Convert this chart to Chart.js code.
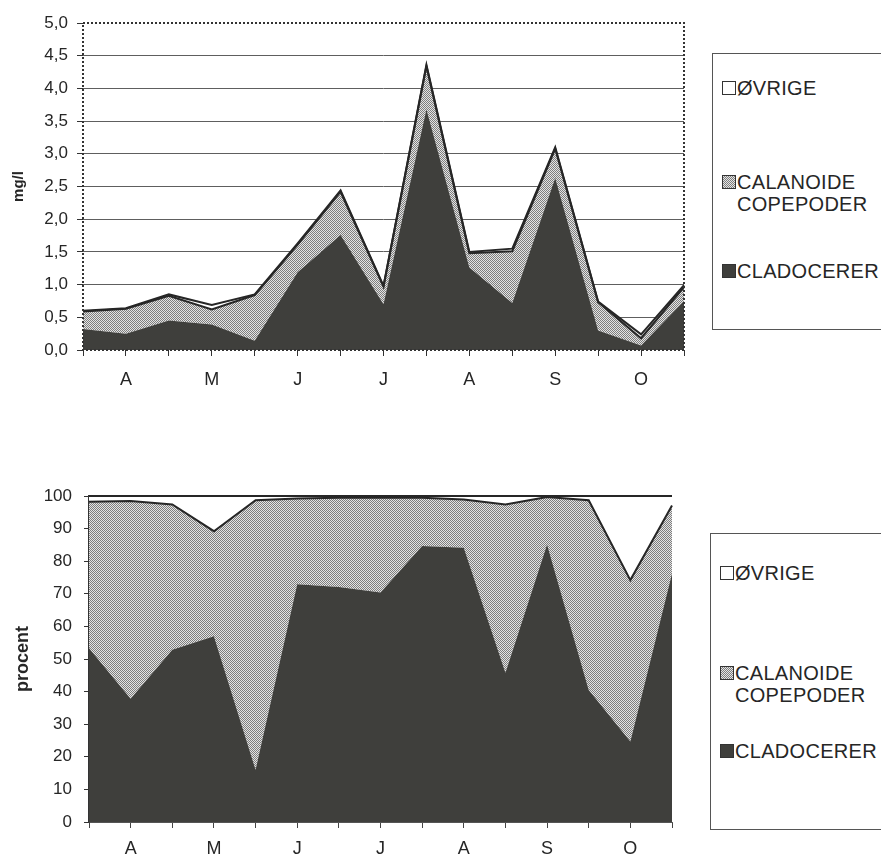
<!DOCTYPE html>
<html>
<head>
<meta charset="utf-8">
<script src="https://cdn.jsdelivr.net/npm/chart.js@4/dist/chart.umd.min.js"></script>
<style>
  html, body { margin: 0; padding: 0; background: #fff; overflow: hidden; }
  #page { position: relative; width: 881px; height: 859px; overflow: hidden;
          font-family: "Liberation Sans", Arial, sans-serif; color: #262626; }
  .wrap { position: absolute; left: 0; width: 700px; }
  #w1 { top: 0; height: 400px; }
  #w2 { top: 440px; height: 419px; }
  .legend { position: absolute; border-top: 1px solid #555; border-bottom: 1px solid #555; border-left: 1px solid #555; width: 300px; }
  #lg1 { left: 712px; top: 53px; height: 275px; }
  #lg2 { left: 710px; top: 533px; height: 295px; }
  .item { position: absolute; left: 24px; font-size: 20px; line-height: 22px; letter-spacing: 0.3px; white-space: nowrap; }
  .sw { position: absolute; left: -15px; top: 4px; width: 12px; height: 12px; border: 1px solid #333; }
</style>
</head>
<body>
<div id="page">
<div class="wrap" id="w1"><canvas id="c1"></canvas></div>
<div class="wrap" id="w2"><canvas id="c2"></canvas></div>
<div class="legend" id="lg1"></div>
<div class="legend" id="lg2"></div>
</div>
<script>
// Sampling dates; only every second one carries a month initial
const months = ['', 'A', '', 'M', '', 'J', '', 'J', '', 'A', '', 'S', '', 'O', ''];

const seriesNames = ['CLADOCERER', 'CALANOIDE COPEPODER', 'ØVRIGE'];

// Biomass, mg/l
const mgCladocerer = [0.32, 0.25, 0.45, 0.39, 0.14, 1.19, 1.76, 0.70, 3.68, 1.26, 0.72, 2.63, 0.30, 0.07, 0.75];
const mgCalanoide  = [0.27, 0.38, 0.38, 0.23, 0.70, 0.42, 0.66, 0.27, 0.66, 0.22, 0.79, 0.45, 0.43, 0.11, 0.21];
const mgOvrige     = [0.01, 0.01, 0.02, 0.07, 0.01, 0.02, 0.02, 0.01, 0.02, 0.02, 0.04, 0.02, 0.01, 0.06, 0.03];

// Share of biomass, procent
const pctCladocerer = [53.3, 37.8, 52.8, 57.0, 16.0, 72.9, 72.1, 70.4, 84.7, 84.1, 45.8, 85.1, 40.5, 24.7, 76.2];
const pctCalanoide  = [44.9, 60.7, 44.6, 32.2, 82.7, 26.3, 27.4, 29.1, 14.8, 14.8, 51.6, 14.6, 58.2, 49.5, 20.9];
const pctOvrige     = [1.8, 1.5, 2.6, 10.8, 1.3, 0.8, 0.5, 0.5, 0.5, 1.1, 2.6, 0.3, 1.3, 25.8, 2.9];

const FONT = '"Liberation Sans", Arial, sans-serif';
const INK = '#262626';
const DARK = '#3f3f3c';

// Fine checker fill for the copepod band
function checker() {
  const t = document.createElement('canvas');
  t.width = 2; t.height = 2;
  const g = t.getContext('2d');
  g.fillStyle = '#e4e4e4'; g.fillRect(0, 0, 2, 2);
  g.fillStyle = '#7e7e7e'; g.fillRect(0, 0, 1, 1); g.fillRect(1, 1, 1, 1);
  return g.createPattern(t, 'repeat');
}
const dots = checker();

function datasets(clad, cal, ovr) {
  return [
    { label: seriesNames[0], data: clad, fill: 'origin', backgroundColor: DARK,
      borderColor: 'rgba(0,0,0,0)', borderWidth: 0, pointRadius: 0, tension: 0, clip: 4 },
    { label: seriesNames[1], data: cal, fill: '-1', backgroundColor: dots,
      borderColor: '#262626', borderWidth: 2, pointRadius: 0, tension: 0, clip: 4 },
    { label: seriesNames[2], data: ovr, fill: '-1', backgroundColor: '#ffffff',
      borderColor: '#262626', borderWidth: 2, pointRadius: 0, tension: 0, clip: 4 }
  ];
}

// Dotted frame round the plot area
const dottedFrame = {
  id: 'dottedFrame',
  afterDatasetsDraw(chart) {
    const a = chart.chartArea, ctx = chart.ctx;
    ctx.save();
    ctx.strokeStyle = '#333';
    ctx.lineWidth = 2;
    ctx.setLineDash([2, 2]);
    ctx.strokeRect(a.left, a.top, a.right - a.left, a.bottom - a.top);
    ctx.restore();
  }
};

function fixWidth(w) { return s => { s.width = w; }; }
function fixHeight(h) { return s => { s.height = h; }; }

Chart.defaults.font.family = FONT;
Chart.defaults.color = INK;
Chart.defaults.animation = false;
Chart.defaults.responsive = true;
Chart.defaults.maintainAspectRatio = false;

// Upper panel: mg/l
new Chart(document.getElementById('c1'), {
  type: 'line',
  data: { labels: months, datasets: datasets(mgCladocerer, mgCalanoide, mgOvrige) },
  options: {
    layout: { padding: { left: 0, right: 16, top: 23, bottom: 0 } },
    plugins: { legend: { display: false }, tooltip: { enabled: false }, filler: { drawTime: 'beforeDatasetsDraw' } },
    scales: {
      x: {
        offset: false,
        grid: { drawOnChartArea: false, drawTicks: true, tickLength: 6, tickColor: '#333', lineWidth: 1 },
        border: { display: false },
        ticks: { autoSkip: false, maxRotation: 0, padding: 13, font: { size: 18 }, color: INK },
        afterFit: fixHeight(50)
      },
      y: {
        stacked: true, min: 0, max: 5,
        grid: {
          color: ctx => (ctx.tick && (ctx.tick.value === 0 || ctx.tick.value === 5)) ? 'rgba(0,0,0,0)' : '#5e5e5e',
          tickColor: '#333', lineWidth: 1, drawTicks: true, tickLength: 6
        },
        border: { display: false },
        ticks: { stepSize: 0.5, padding: 9, font: { size: 17 }, color: INK,
                 callback: v => v.toFixed(1).replace('.', ',') },
        title: { display: true, text: 'mg/l', font: { size: 15, weight: 'bold' }, color: INK, padding: { top: 10, bottom: 0 } },
        afterFit: fixWidth(83)
      }
    }
  },
  plugins: [dottedFrame]
});

// Lower panel: procent
new Chart(document.getElementById('c2'), {
  type: 'line',
  data: { labels: months, datasets: datasets(pctCladocerer, pctCalanoide, pctOvrige) },
  options: {
    layout: { padding: { left: 0, right: 28, top: 56, bottom: 0 } },
    plugins: { legend: { display: false }, tooltip: { enabled: false }, filler: { drawTime: 'beforeDatasetsDraw' } },
    scales: {
      x: {
        offset: false,
        grid: { drawOnChartArea: false, drawTicks: true, tickLength: 6, tickColor: '#444' },
        border: { display: true, color: '#555', width: 1 },
        ticks: { autoSkip: false, maxRotation: 0, padding: 10, font: { size: 18 }, color: INK },
        afterFit: fixHeight(37)
      },
      y: {
        stacked: true, min: 0, max: 100,
        grid: { drawOnChartArea: false, drawTicks: true, tickLength: 5, tickColor: '#333' },
        border: { display: true, color: '#333', width: 1.5 },
        ticks: { stepSize: 10, padding: 12, font: { size: 17 }, color: INK },
        title: { display: true, text: 'procent', font: { size: 18, weight: 'bold' }, color: INK, padding: { top: 12, bottom: 0 } },
        afterFit: fixWidth(89)
      }
    }
  }
});

// Legends, top entry first
const swatchStyle = [
  'background:' + DARK + ';',
  'background: repeating-conic-gradient(#7e7e7e 0 25%, #e4e4e4 0 50%) 0 0 / 2px 2px;',
  'background:#fff;'
];
function buildLegend(id, centres) {
  const box = document.getElementById(id);
  [2, 1, 0].forEach((s, i) => {
    const lines = seriesNames[s].split(' ');
    const el = document.createElement('div');
    el.className = 'item';
    el.style.top = (centres[i] - 11) + 'px';
    el.innerHTML = '<span class="sw" style="' + swatchStyle[s] + '"></span>' + lines.join('<br>');
    box.appendChild(el);
  });
}
buildLegend('lg1', [34, 128, 217]);
buildLegend('lg2', [39, 139, 217]);
</script>
</body>
</html>
